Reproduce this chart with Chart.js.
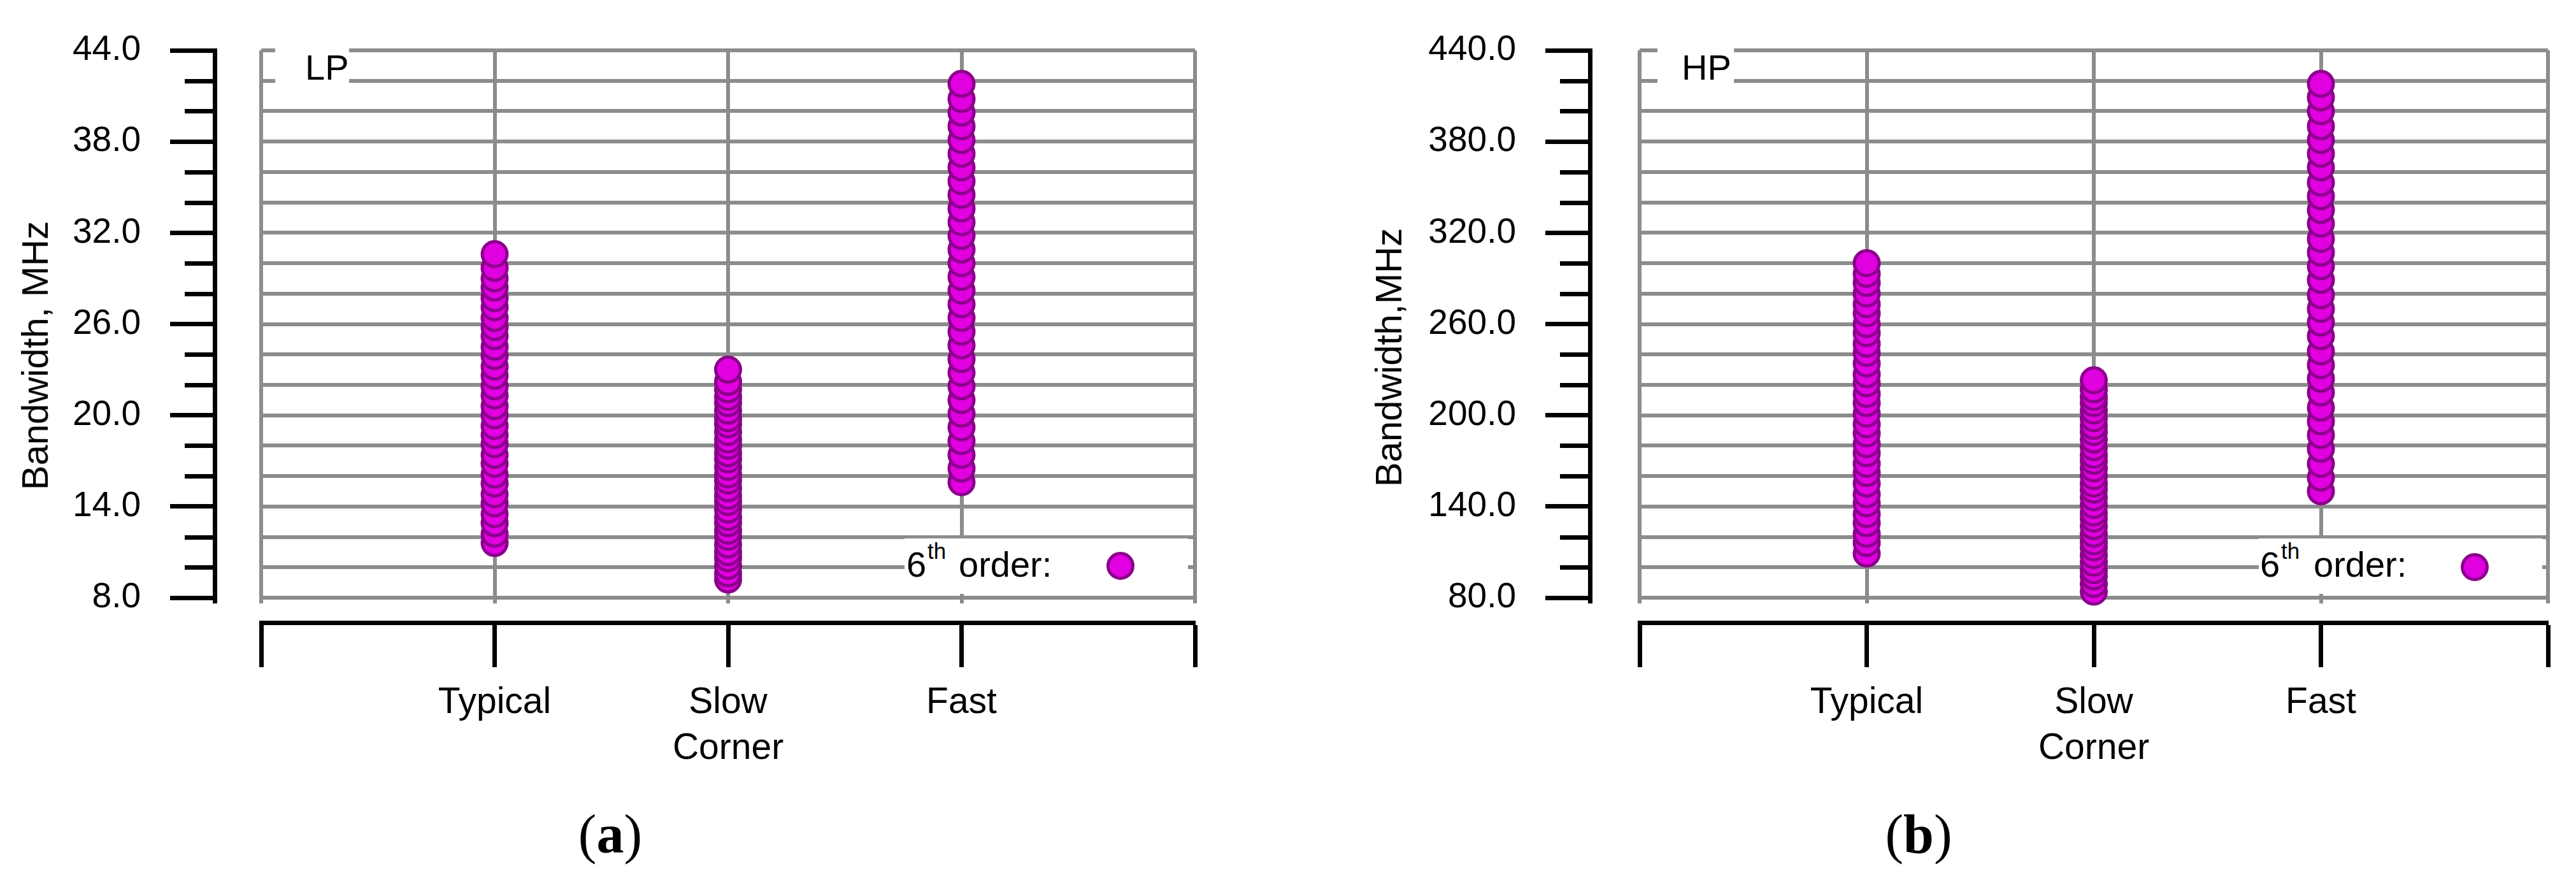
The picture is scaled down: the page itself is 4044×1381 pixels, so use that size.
<!DOCTYPE html>
<html>
<head>
<meta charset="utf-8">
<script src="https://cdn.jsdelivr.net/npm/chart.js@4.4.1/dist/chart.umd.min.js"></script>
<style>
  html, body { margin:0; padding:0; background:#fff; }
  body { width:4044px; height:1381px; position:relative; overflow:hidden; font-family:'Liberation Sans', Arial, sans-serif; color:#000; }
  canvas { position:absolute; top:0; }
  .t { position:absolute; white-space:nowrap; line-height:1; }
  .box { position:absolute; background:#fff; }
  .ytitle { position:absolute; white-space:nowrap; line-height:1; font-size:58px; transform:translate(-50%,-50%) rotate(-90deg); }
  .cap { position:absolute; white-space:nowrap; line-height:1; font-family:'Liberation Serif','Times New Roman',serif; font-size:86px; transform:translateX(-50%); }
  .mk { position:absolute; box-sizing:border-box; width:44px; height:44px; border-radius:50%; background:#E000E0; border:5px solid #8B008B; transform:translate(-50%,-50%); }
</style>
</head>
<body>
<canvas id="cLP" width="2022" height="1381" style="left:0px"></canvas>
<canvas id="cHP" width="2022" height="1381" style="left:2022px"></canvas>

<!-- panel (a) overlays -->
<div class="ytitle" style="left:55px; top:558px;">Bandwidth, MHz</div>
<div class="box" style="left:432px; top:66px; width:116px; height:80px;"></div>
<div class="t" style="left:479px; top:78px; font-size:56px;">LP</div>
<div class="box" style="left:1420px; top:845px; width:445px; height:87px;"></div>
<div class="t" style="left:1423px; top:858px; font-size:56px;">6</div>
<div class="t" style="left:1456px; top:847px; font-size:35px;">th</div>
<div class="t" style="left:1505px; top:858px; font-size:56px;">order:</div>
<div class="mk" style="left:1759px; top:888px;"></div>
<div class="cap" style="left:958px; top:1266px;">(<b>a</b>)</div>

<!-- panel (b) overlays -->
<div class="ytitle" style="left:2180px; top:561px;">Bandwidth,MHz</div>
<div class="box" style="left:2602px; top:66px; width:120px; height:80px;"></div>
<div class="t" style="left:2640px; top:78px; font-size:56px;">HP</div>
<div class="box" style="left:3546px; top:845px; width:445px; height:87px;"></div>
<div class="t" style="left:3548px; top:858px; font-size:56px;">6</div>
<div class="t" style="left:3581px; top:847px; font-size:35px;">th</div>
<div class="t" style="left:3632px; top:858px; font-size:56px;">order:</div>
<div class="mk" style="left:3885px; top:890px;"></div>
<div class="cap" style="left:3012px; top:1266px;">(<b>b</b>)</div>

<script>
// ---------- data ----------
const categories = ['Typical', ['Slow', 'Corner'], 'Fast'];
const categoryPositions = [1, 2, 3];

// LP (panel a) bandwidth values, MHz
const lpTypical = [11.6, 12.2, 12.9, 13.5, 14.2, 14.8, 15.5, 16.1, 16.8, 17.4, 18.1, 18.7, 19.3, 20.0, 20.6, 21.3, 21.9, 22.6, 23.2, 23.9, 24.5, 25.2, 25.8, 26.4, 27.1, 27.7, 28.4, 29.0, 29.7, 30.6];
const lpSlow    = [9.2, 9.6, 10.1, 10.6, 11.0, 11.5, 12.0, 12.4, 12.9, 13.3, 13.8, 14.3, 14.7, 15.2, 15.7, 16.1, 16.6, 17.1, 17.5, 18.0, 18.4, 18.9, 19.4, 19.8, 20.3, 20.8, 21.2, 21.7, 22.2, 23.0];
const lpFast    = [15.6, 16.5, 17.4, 18.3, 19.2, 20.1, 21.0, 21.9, 22.8, 23.7, 24.6, 25.5, 26.4, 27.3, 28.2, 29.1, 30.0, 30.9, 31.8, 32.7, 33.6, 34.5, 35.4, 36.3, 37.2, 38.1, 39.0, 39.9, 40.8, 41.8];

// HP (panel b) bandwidth values, MHz
const hpTypical = [109, 116, 122, 129, 135, 142, 148, 155, 162, 168, 175, 181, 188, 194, 201, 208, 214, 221, 227, 234, 241, 247, 254, 260, 267, 273, 280, 287, 293, 300];
const hpSlow    = [84, 89, 94, 98, 103, 108, 113, 117, 122, 127, 132, 136, 141, 146, 151, 155, 160, 165, 170, 174, 179, 184, 189, 193, 198, 203, 208, 212, 217, 223];
const hpFast    = [150, 159, 168, 178, 187, 196, 205, 215, 224, 233, 242, 252, 261, 270, 279, 289, 298, 307, 316, 326, 335, 344, 353, 363, 372, 381, 390, 400, 409, 418];

// y-axis ranges and labelled (major) ticks
const lpRange = [8, 44], lpStep = 2;
const lpMajorTicks = [8, 14, 20, 26, 32, 38, 44];
const hpRange = [80, 440], hpStep = 20;
const hpMajorTicks = [80, 140, 200, 260, 320, 380, 440];

// ---------- styling ----------
const GRID = '#8C8C8C';
const FILL = '#E000E0';
const EDGE = '#8B008B';
const FONT = "'Liberation Sans', Arial, sans-serif";

function toPoints(cols) {
  const pts = [];
  cols.forEach((vals, i) => vals.forEach(v => pts.push({ x: categoryPositions[i], y: v })));
  return pts;
}

// minor ticks on the detached y axis, plus the short overhang of the axis / grid below the plot
const axisExtrasPlugin = {
  id: 'axisExtras',
  beforeDatasetsDraw(chart, args, opts) {
    const ctx = chart.ctx;
    const y2 = chart.scales.y2, x = chart.scales.x;
    const bottom = chart.chartArea.bottom;
    ctx.save();
    ctx.lineCap = 'butt';
    // gray vertical grid overhang
    ctx.strokeStyle = GRID;
    ctx.lineWidth = 6;
    x.ticks.forEach(t => {
      const px = Math.round(x.getPixelForValue(t.value));
      ctx.beginPath();
      ctx.moveTo(px, bottom);
      ctx.lineTo(px, bottom + 9);
      ctx.stroke();
    });
    // black y axis overhang and minor ticks
    ctx.strokeStyle = '#000';
    ctx.lineWidth = 7;
    const bx = Math.round(y2.right) + 0.5;
    ctx.beginPath();
    ctx.moveTo(bx, bottom);
    ctx.lineTo(bx, bottom + 9);
    ctx.stroke();
    y2.ticks.forEach(t => {
      if (opts.majors.includes(t.value)) return;
      const py = Math.round(y2.getPixelForValue(t.value)) + 0.5;
      ctx.beginPath();
      ctx.moveTo(y2.right - 47, py);
      ctx.lineTo(y2.right, py);
      ctx.stroke();
    });
    ctx.restore();
  }
};

function makeChart(id, cols, range, step, majors, geom) {
  const ctx = document.getElementById(id).getContext('2d');
  return new Chart(ctx, {
    type: 'scatter',
    data: {
      datasets: [{
        label: '6th order',
        data: toPoints(cols),
        pointRadius: 19.5,
        pointHoverRadius: 19.5,
        pointBorderWidth: 5,
        backgroundColor: FILL,
        borderColor: EDGE,
        showLine: false,
        clip: false
      }]
    },
    options: {
      responsive: false,
      animation: false,
      devicePixelRatio: 1,
      events: [],
      layout: { padding: { left: 0, right: geom.padRight, top: 53, bottom: 0 } },
      plugins: {
        legend: { display: false },
        tooltip: { enabled: false },
        axisExtras: { majors: majors }
      },
      scales: {
        x: {
          type: 'linear', position: 'bottom', min: 0, max: 4, weight: 0,
          ticks: { stepSize: 1, display: false, autoSkip: false },
          grid: { color: GRID, lineWidth: 6, drawTicks: false },
          border: { display: false },
          afterFit: s => { s.height = 39; }
        },
        x2: {
          type: 'linear', position: 'bottom', min: 0, max: 4, weight: 1,
          ticks: {
            stepSize: 1, autoSkip: false, maxRotation: 0, minRotation: 0,
            padding: 20, color: '#000',
            font: { family: FONT, size: 57, lineHeight: 1.27 },
            callback: v => { const i = categoryPositions.indexOf(v); return i >= 0 ? categories[i] : ''; }
          },
          grid: { drawOnChartArea: false, tickColor: '#000', tickWidth: 7, tickLength: 70 },
          border: { color: '#000', width: 7 },
          afterFit: s => { s.height = 404; }
        },
        y: {
          type: 'linear', position: 'left', min: range[0], max: range[1], weight: 0,
          ticks: { stepSize: step, display: false, autoSkip: false },
          grid: { color: GRID, lineWidth: 6, drawTicks: false },
          border: { display: false },
          afterFit: s => { s.width = geom.gap; }
        },
        y2: {
          type: 'linear', position: 'left', min: range[0], max: range[1], weight: 1,
          ticks: {
            stepSize: step, autoSkip: false, padding: 46, color: '#000',
            font: { family: FONT, size: 55 },
            callback: v => majors.includes(v) ? v.toFixed(1) : ''
          },
          grid: {
            drawOnChartArea: false, tickWidth: 7, tickLength: 70,
            tickColor: c => (c.tick && majors.includes(c.tick.value)) ? '#000' : 'rgba(0,0,0,0)'
          },
          border: { color: '#000', width: 7 },
          afterFit: s => { s.width = geom.axisX; }
        }
      }
    },
    plugins: [axisExtrasPlugin]
  });
}

makeChart('cLP', [lpTypical, lpSlow, lpFast], lpRange, lpStep, lpMajorTicks, { axisX: 337, gap: 73, padRight: 146 });
makeChart('cHP', [hpTypical, hpSlow, hpFast], hpRange, hpStep, hpMajorTicks, { axisX: 474, gap: 78, padRight: 44 });
</script>
</body>
</html>
